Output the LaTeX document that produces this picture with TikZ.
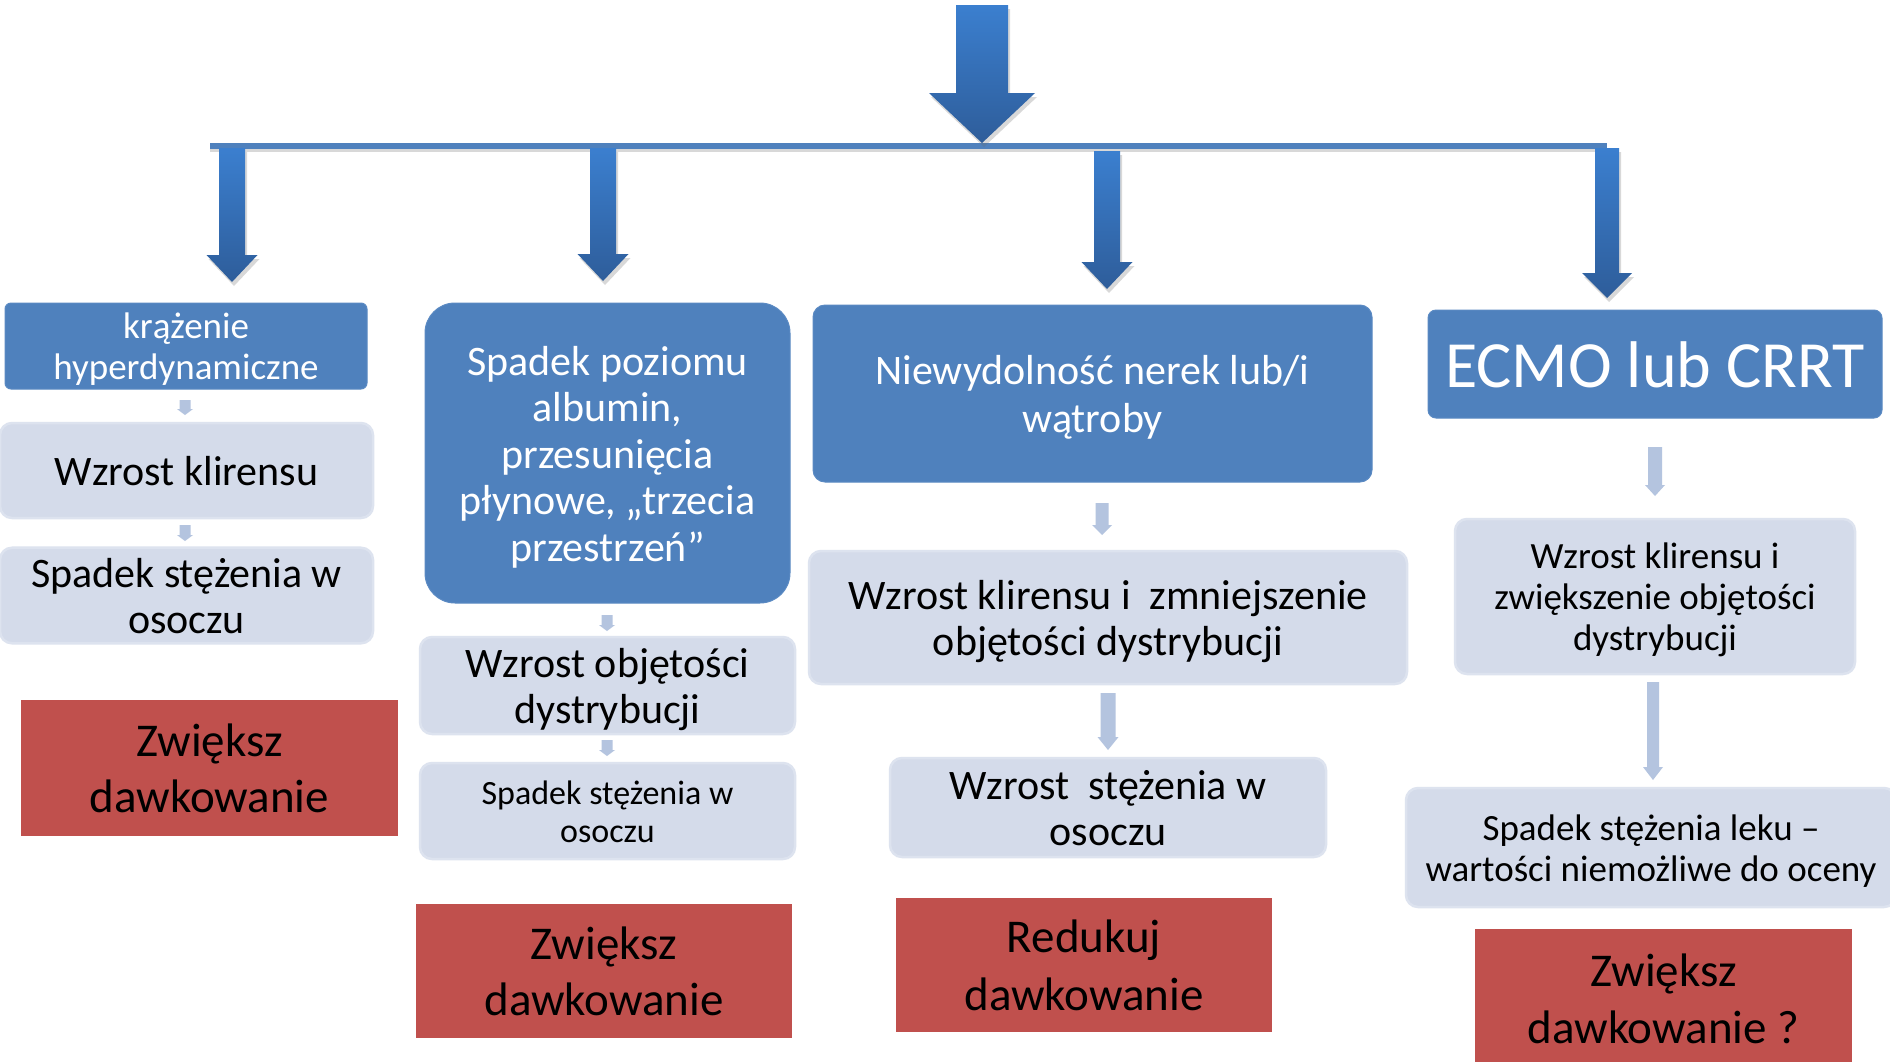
\documentclass[tikz,border=0pt]{standalone}
\usepackage{fontspec}
\setmainfont{Carlito}
\usetikzlibrary{shadows,calc}
\definecolor{dblue}{HTML}{4F81BD}
\definecolor{dblueedge}{HTML}{5B8AC3}
\definecolor{lfill}{HTML}{D4DBEA}
\definecolor{ledge}{HTML}{DDE3EF}
\definecolor{redbox}{HTML}{C0504D}
\definecolor{sarrow}{HTML}{B4C4DF}
\definecolor{atop}{HTML}{3B7FCF}
\definecolor{abot}{HTML}{2E5D9A}
% struts: fixed top height on the first line, fixed depth on the last line
\newcommand\strA{\rule{0pt}{0.95em}}
\newcommand\strB{\rule[-0.23em]{0pt}{0pt}}
% #1 style, #2 start coordinate, #3 tip coordinate, #4 shaft half width, #5 head half width, #6 head length
\newcommand\blockarrow[6]{%
  \path[#1] let \p1=(#2), \p2=(#3) in
  ({\x1-#4},{\y1}) -- ({\x1+#4},{\y1}) -- ({\x1+#4},{\y2+#6}) -- ({\x1+#5},{\y2+#6}) --
  (\x2,\y2) -- ({\x1-#5},{\y2+#6}) -- ({\x1-#4},{\y2+#6}) -- cycle;}
\tikzset{
  box/.style={inner sep=0pt, align=center, anchor=center},
  dbox/.style={box, fill=dblue, draw=dblueedge, line width=1pt, text=white},
  lbox/.style={box, fill=lfill, draw=ledge, line width=2.5pt, rounded corners=12pt, text=black},
  rbox/.style={box, fill=redbox, text=black},
  bigarrow/.style={top color=atop, bottom color=abot, draw=none,
    drop shadow={opacity=0.25, fill=black!60, shadow xshift=2pt, shadow yshift=-4pt}},
  smallarrow/.style={fill=sarrow, draw=none},
  barstyle/.style={fill=dblue, drop shadow={opacity=0.25, fill=black!60, shadow xshift=0pt, shadow yshift=-3pt}},
  f37/.style={font={\fontsize{37}{41}\selectfont}},
  f42/.style={font={\fontsize{42}{46}\selectfont}},
  f34/.style={font={\fontsize{34}{37.5}\selectfont}},
  f47/.style={font={\fontsize{47}{56}\selectfont}},
}
\begin{document}
\begin{tikzpicture}[x=1pt, y=-1pt]
\useasboundingbox (0,0) rectangle (1890,1061);
\fill[white] (0,0) rectangle (1890,1061);
\clip (0,0) rectangle (1890,1061);

% ---------- column 1 ----------
\node[dbox, rounded corners=6pt, minimum width=362pt, minimum height=86pt, f37] (k1) at (186,346) {\strA krążenie\\hyperdynamiczne\strB};
\node[lbox, minimum width=373pt, minimum height=95pt, f42] (k2) at (186.5,470.5) {\strA Wzrost klirensu\strB};
\node[lbox, minimum width=373pt, minimum height=95pt, f42] (k3) at (186.5,595.5) {\strA Spadek stężenia w\\osoczu\strB};
\node[rbox, minimum width=377pt, minimum height=136pt, f47] (k4) at (209.5,768) {\strA Zwiększ\\dawkowanie\strB};

% ---------- column 2 ----------
\node[dbox, rounded corners=30pt, minimum width=365pt, minimum height=300pt, font={\fontsize{42}{46.5}\selectfont}] (p1) at (607.5,453)
  {\strA Spadek poziomu\\albumin,\\przesunięcia\\płynowe, „trzecia\\przestrzeń”\strB};
\node[lbox, minimum width=375pt, minimum height=97pt, f42] (p2) at (607.5,685.5) {\strA Wzrost objętości\\dystrybucji\strB};
\node[lbox, minimum width=375pt, minimum height=96pt, f34] (p3) at (607.5,811) {\strA Spadek stężenia w\\osoczu\strB};
\node[rbox, minimum width=376pt, minimum height=134pt, f47] (p4) at (604,971) {\strA Zwiększ\\dawkowanie\strB};

% ---------- column 3 ----------
\node[dbox, rounded corners=12pt, minimum width=559pt, minimum height=177pt, font={\fontsize{42}{48}\selectfont}] (n1) at (1092.5,393.5) {\strA Niewydolność nerek lub/i\\wątroby\strB};
\node[lbox, minimum width=598pt, minimum height=133pt, f42] (n2) at (1108,617.5) {\strA Wzrost klirensu i\ \ zmniejszenie\\objętości dystrybucji\strB};
\node[lbox, minimum width=436pt, minimum height=99pt, f42] (n3) at (1108,807.5) {\strA Wzrost\ \ stężenia w\\osoczu\strB};
\node[rbox, minimum width=376pt, minimum height=134pt, font={\fontsize{47}{58}\selectfont}] (n4) at (1084,965) {\strA Redukuj\\dawkowanie\strB};

% ---------- column 4 ----------
\node[dbox, rounded corners=8pt, minimum width=454pt, minimum height=108pt, font={\fontsize{66}{72}\selectfont}] (e1) at (1655,364) {\strA ECMO lub CRRT\strB};
\node[lbox, minimum width=400pt, minimum height=155pt, f37] (e2) at (1655,596.5) {\strA Wzrost klirensu i\\zwiększenie objętości\\dystrybucji\strB};
\node[lbox, minimum width=490pt, minimum height=119pt, f37] (e3) at (1651,847.5) {\strA Spadek stężenia leku –\\wartości niemożliwe do oceny\strB};
\node[rbox, minimum width=377pt, minimum height=138pt, font={\fontsize{47}{57}\selectfont}] (e4) at (1663.5,998) {\strA Zwiększ\\dawkowanie ?\strB};

% ---------- big arrows and bar ----------
\coordinate (barL) at (210,143);
\coordinate (barR) at (1607,149);
\path[barstyle] (barL) rectangle (barR);

\coordinate (t0s) at (982,5);    \coordinate (t0e) at (982,143);
\coordinate (a1s) at (232,148);  \coordinate (a1e) at (232,282);
\coordinate (a2s) at (603,148);  \coordinate (a2e) at (603,281);
\coordinate (a3s) at (1107,151); \coordinate (a3e) at (1107,289);
\coordinate (a4s) at (1607,148); \coordinate (a4e) at (1607,298);

\blockarrow{bigarrow}{t0s}{t0e}{26pt}{53pt}{50pt}
\blockarrow{bigarrow}{a1s}{a1e}{13pt}{25.5pt}{27pt}
\blockarrow{bigarrow}{a2s}{a2e}{13pt}{25.5pt}{27pt}
\blockarrow{bigarrow}{a3s}{a3e}{13pt}{25.5pt}{27pt}
\blockarrow{bigarrow}{a4s}{a4e}{12pt}{25pt}{25pt}

% ---------- small arrows ----------
\coordinate (s1a) at (185,400);  \coordinate (s1b) at (185,415);
\coordinate (s2a) at (185,525);  \coordinate (s2b) at (185,541);
\coordinate (s3a) at (607,615);  \coordinate (s3b) at (607,631);
\coordinate (s4a) at (607,740);  \coordinate (s4b) at (607,756);
\coordinate (s5a) at (1102,503); \coordinate (s5b) at (1102,535);
\coordinate (s6a) at (1108,693); \coordinate (s6b) at (1108,750);
\coordinate (s7a) at (1655,447); \coordinate (s7b) at (1655,496);
\coordinate (s8a) at (1653,682); \coordinate (s8b) at (1653,780);

\blockarrow{smallarrow}{s1a}{s1b}{5.5pt}{8pt}{6pt}
\blockarrow{smallarrow}{s2a}{s2b}{5.5pt}{8pt}{6pt}
\blockarrow{smallarrow}{s3a}{s3b}{5.5pt}{8pt}{6pt}
\blockarrow{smallarrow}{s4a}{s4b}{5.5pt}{8pt}{6pt}
\blockarrow{smallarrow}{s5a}{s5b}{6.5pt}{10pt}{10pt}
\blockarrow{smallarrow}{s6a}{s6b}{7.5pt}{10.5pt}{13pt}
\blockarrow{smallarrow}{s7a}{s7b}{7pt}{10pt}{11pt}
\blockarrow{smallarrow}{s8a}{s8b}{6pt}{10pt}{13pt}
\end{tikzpicture}
\end{document}
